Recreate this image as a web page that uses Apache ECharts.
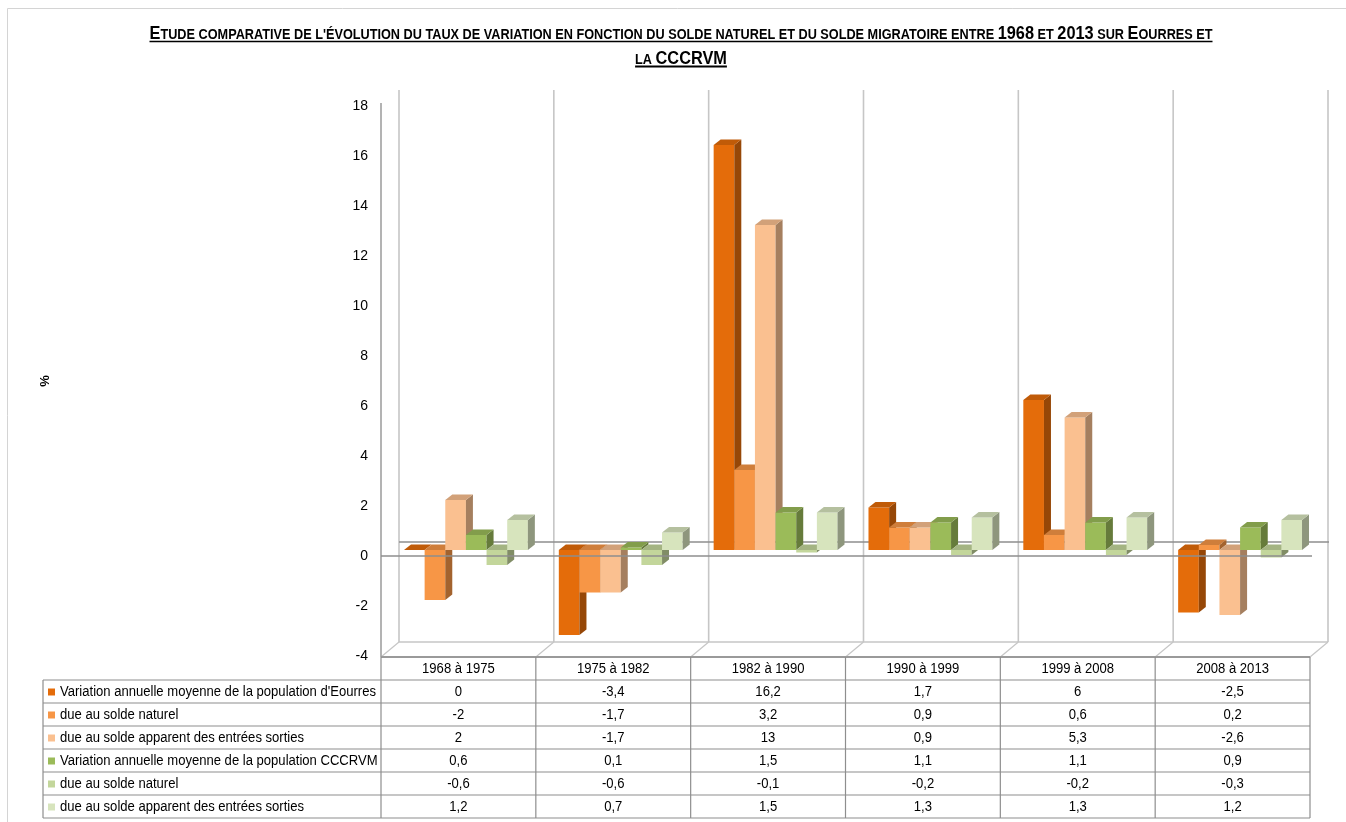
<!DOCTYPE html>
<html>
<head>
<meta charset="utf-8">
<script src="https://cdn.jsdelivr.net/npm/echarts@6/dist/echarts.min.js"></script>
<style>
  html, body { margin: 0; padding: 0; background: #fff; }
  #chart { width: 1346px; height: 822px; }
</style>
</head>
<body>
<div id="chart"></div>
<script>
// Périodes intercensitaires
const periods = ['1968 à 1975', '1975 à 1982', '1982 à 1990', '1990 à 1999', '1999 à 2008', '2008 à 2013'];

// Libellés des séries (lignes du tableau)
const seriesNames = [
  "Variation annuelle moyenne de la population d'Eourres",
  'due au solde naturel',
  'due au solde apparent des entrées sorties',
  'Variation annuelle moyenne de la population CCCRVM',
  'due au solde naturel',
  'due au solde apparent des entrées sorties'
];

// Taux annuels moyens (%)
const eourresTotal      = [0, -3.4, 16.2, 1.7, 6, -2.5];
const eourresNaturel    = [-2, -1.7, 3.2, 0.9, 0.6, 0.2];
const eourresMigratoire = [2, -1.7, 13, 0.9, 5.3, -2.6];
const cccrvmTotal       = [0.6, 0.1, 1.5, 1.1, 1.1, 0.9];
const cccrvmNaturel     = [-0.6, -0.6, -0.1, -0.2, -0.2, -0.3];
const cccrvmMigratoire  = [1.2, 0.7, 1.5, 1.3, 1.3, 1.2];

// Axe vertical
const yMin = -4, yMax = 18, yStep = 2;

const seriesValues = [eourresTotal, eourresNaturel, eourresMigratoire, cccrvmTotal, cccrvmNaturel, cccrvmMigratoire];
const colors = ['#E46C0A', '#F79646', '#FAC090', '#9BBB59', '#C3D69B', '#D7E4BD'];

const FONT = '"Liberation Sans", Arial, sans-serif';

// Profondeur du "mur" et des colonnes en perspective
const WALL_DX = 18, WALL_DY = -14;
const BAR_SHIFT_X = 7.5, BAR_SHIFT_Y = -6;
const BAR_DX = 7, BAR_DY = -5.5;
const GROUP_GAP = 0.2;

function shade(hex, f) {
  const n = parseInt(hex.slice(1), 16);
  const r = Math.round(((n >> 16) & 255) * f);
  const g = Math.round(((n >> 8) & 255) * f);
  const b = Math.round((n & 255) * f);
  return 'rgb(' + r + ',' + g + ',' + b + ')';
}

function renderBar(params, api) {
  const k = params.seriesIndex;
  const cat = api.value(0), v = api.value(1);
  const band = api.size([1, 0])[0];
  const w = band * (1 - GROUP_GAP) / seriesValues.length;
  const center = api.coord([cat, 0]);
  const x = center[0] - band / 2 + band * GROUP_GAP / 2 + k * w + BAR_SHIFT_X;
  const y0 = center[1] + BAR_SHIFT_Y;
  const y1 = api.coord([cat, v])[1] + BAR_SHIFT_Y;
  const top = Math.min(y0, y1), bot = Math.max(y0, y1);
  const c = colors[k];
  return {
    type: 'group',
    children: [
      { type: 'rect', shape: { x: x, y: top, width: w, height: bot - top }, style: { fill: c } },
      { type: 'polygon', shape: { points: [[x + w, top], [x + w + BAR_DX, top + BAR_DY], [x + w + BAR_DX, bot + BAR_DY], [x + w, bot]] }, style: { fill: shade(c, 0.66) } },
      { type: 'polygon', shape: { points: [[x, top], [x + BAR_DX, top + BAR_DY], [x + w + BAR_DX, top + BAR_DY], [x + w, top]] }, style: { fill: shade(c, 0.84) } }
    ]
  };
}

const chart = echarts.init(document.getElementById('chart'));

chart.setOption({
  animation: false,
  backgroundColor: '#fff',
  grid: { left: 381, right: 36, top: 106, bottom: 166 },
  xAxis: { type: 'category', data: periods, show: false },
  yAxis: {
    type: 'value', min: yMin, max: yMax, interval: yStep,
    axisLine: { show: false }, axisTick: { show: false }, splitLine: { show: false },
    axisLabel: { margin: 13, fontSize: 14, fontFamily: FONT, color: '#000' }
  },
  series: seriesValues.map((vals, k) => ({
    type: 'custom',
    name: seriesNames[k],
    renderItem: renderBar,
    data: vals.map((v, i) => [i, v]),
    encode: { x: 0, y: 1 },
    z: 3
  }))
});

// Mesure de texte (police condensée simulée par un étirement horizontal)
const measureCtx = document.createElement('canvas').getContext('2d');
function textWidth(str, font) { measureCtx.font = font; return measureCtx.measureText(str).width; }

const CELL_FONT = '14px ' + FONT;
const LABEL_WIDTH = 316;
const CELL_SCALE = Math.min(1, LABEL_WIDTH / textWidth(seriesNames[0], CELL_FONT));

const titleLines = [
  [['E', 1], ["TUDE COMPARATIVE DE L'ÉVOLUTION DU TAUX DE VARIATION EN FONCTION DU SOLDE NATUREL ET DU SOLDE MIGRATOIRE ENTRE ", 0],
   ['1968', 1], [' ET ', 0], ['2013', 1], [' SUR ', 0], ['E', 1], ['OURRES ET', 0]],
  [['LA ', 0], ['CCCRVM', 1]]
];
const TITLE_WIDTH = 1063;

function buildGraphics() {
  const els = [];
  const px = i => chart.convertToPixel({ xAxisIndex: 0 }, i);
  const py = v => chart.convertToPixel({ yAxisIndex: 0 }, v);
  const band = px(1) - px(0);
  const edges = periods.map((p, i) => px(i) - band / 2);
  edges.push(edges[edges.length - 1] + band);
  const left = edges[0], right = edges[edges.length - 1];
  const yTop = py(yMax), yBot = py(yMin), yZero = py(0);

  const line = (x1, y1, x2, y2, stroke, lw, z) => els.push({
    type: 'line', z: z || 0, silent: true,
    shape: { x1: x1, y1: y1, x2: x2, y2: y2 },
    style: { stroke: stroke, lineWidth: lw }
  });

  // Cadre
  els.push({ type: 'rect', z: 0, shape: { x: 7.5, y: 8.5, width: 1400, height: 900 }, style: { fill: 'none', stroke: '#d4d4d4', lineWidth: 1 } });

  // Mur du fond et plancher
  edges.forEach(e => line(e + WALL_DX, yTop + WALL_DY - 2, e + WALL_DX, yBot + WALL_DY, '#c6c6c6', 1.6));
  line(left + WALL_DX, yBot + WALL_DY, right + WALL_DX, yBot + WALL_DY, '#c6c6c6', 1.6);
  edges.forEach(e => line(e, yBot + 1, e + WALL_DX, yBot + WALL_DY, '#c6c6c6', 1.2));
  line(left, yTop - 3, left, yBot + 1, '#9a9a9a', 1.5);
  // Lignes du zéro (fond puis avant)
  line(left + WALL_DX, yZero + WALL_DY, right + WALL_DX + 1, yZero + WALL_DY, '#8e8e8e', 1.5);
  line(left, yZero, right + 2, yZero, '#8e8e8e', 1.5, 10);

  // Tableau de données
  const tTop = yBot + 1, rowH = 23, tLeft = 43;
  const tBottom = tTop + rowH * (seriesValues.length + 1);
  line(left, tTop, right, tTop, '#9a9a9a', 2);
  for (let r = 1; r <= seriesValues.length + 1; r++) {
    line(tLeft, tTop + r * rowH, right, tTop + r * rowH, '#8e8e8e', 1.2);
  }
  line(tLeft, tTop + rowH, tLeft, tBottom, '#8e8e8e', 1.2);
  edges.forEach(e => line(e, tTop, e, tBottom, '#8e8e8e', 1.2));

  const cellText = (str, x, y, align) => els.push({
    type: 'text', z: 5, silent: true, x: x, y: y, scaleX: CELL_SCALE,
    style: { text: str, fill: '#000', font: CELL_FONT, align: align, verticalAlign: 'middle' }
  });
  periods.forEach((p, i) => cellText(p, (edges[i] + edges[i + 1]) / 2, tTop + rowH / 2 + 1, 'center'));
  seriesValues.forEach((vals, k) => {
    const cy = tTop + rowH * (k + 1) + rowH / 2 + 1;
    els.push({ type: 'rect', z: 5, shape: { x: 48, y: cy - 4, width: 7, height: 7 }, style: { fill: colors[k] } });
    cellText(seriesNames[k], 60, cy, 'left');
    vals.forEach((v, i) => cellText(String(v).replace('.', ','), (edges[i] + edges[i + 1]) / 2, cy, 'center'));
  });

  // Unité de l'axe vertical
  els.push({
    type: 'text', z: 5, x: 45, y: (yTop + yBot) / 2, rotation: Math.PI / 2,
    style: { text: '%', fill: '#000', font: 'bold 13px ' + FONT, align: 'center', verticalAlign: 'middle' }
  });

  // Titre souligné en petites capitales
  const BIG = 18, SMALL = 14;
  const fontOf = big => 'bold ' + (big ? BIG : SMALL) + 'px ' + FONT;
  const cx = 681;
  const baselines = [39, 64];
  const rawWidths = titleLines.map(segs => segs.map(s => textWidth(s[0], fontOf(s[1]))));
  const tScale = TITLE_WIDTH / rawWidths[0].reduce((a, b) => a + b, 0);
  titleLines.forEach((segs, li) => {
    const widths = rawWidths[li].map(w => w * tScale);
    const total = widths.reduce((a, b) => a + b, 0);
    let x = cx - total / 2;
    const yb = baselines[li];
    segs.forEach((s, j) => {
      const size = s[1] ? BIG : SMALL;
      els.push({
        type: 'text', z: 5, x: x, y: yb + 0.21 * size, scaleX: tScale,
        style: { text: s[0], fill: '#000', font: fontOf(s[1]), align: 'left', verticalAlign: 'bottom' }
      });
      x += widths[j];
    });
    line(cx - total / 2, yb + 2.5, cx + total / 2, yb + 2.5, '#000', li === 1 ? 2 : 1.3, 5);
  });

  chart.setOption({ graphic: { elements: els } });
}

buildGraphics();
</script>
</body>
</html>
